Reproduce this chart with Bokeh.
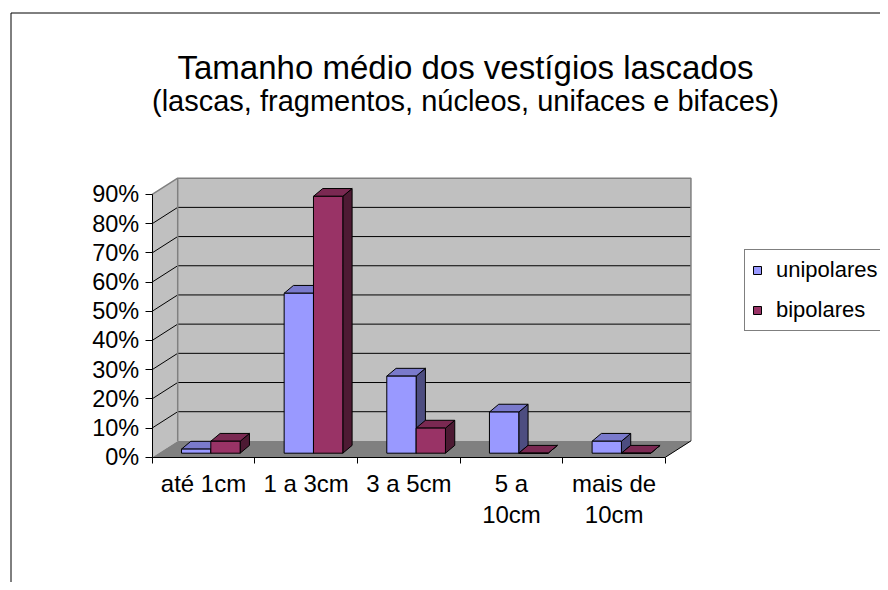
from bokeh.plotting import figure
from bokeh.models import (Range1d, LinearAxis, FixedTicker, NumeralTickFormatter,
                          Legend, LegendItem, Label)
from bokeh.embed import file_html
from bokeh.resources import INLINE

# ---------------- data ----------------
categories = ["até 1cm", "1 a 3cm", "3 a 5cm", "5 a\n10cm", "mais de\n10cm"]
series_names = ["unipolares", "bipolares"]
unipolares = [0.014, 0.548, 0.264, 0.141, 0.041]
bipolares = [0.041, 0.880, 0.086, 0.0, 0.0]
y_ticks = [0.0, 0.1, 0.2, 0.3, 0.4, 0.5, 0.6, 0.7, 0.8, 0.9]
title_text = "Tamanho médio dos vestígios lascados"
subtitle_text = "(lascas, fragmentos, núcleos, unifaces e bifaces)"

# ---------------- colours ----------------
front_colors = ["#9999FF", "#993366"]
top_colors = ["#7A7ACC", "#7A2952"]
side_colors = ["#4D4D80", "#4D1A33"]
WALL = "#C0C0C0"
FLOOR = "#808080"
EDGE = "#808080"
FONT = "Liberation Sans"

# ---------------- layout (pixels -> data scale) ----------------
W, H = 880, 582
PX_PER_CAT = 102.65
PX_PER_UNIT = 291.9
ORIGIN_X = 151.7      # canvas x of the front axis
ORIGIN_Y = 456.7      # canvas y (from top) of 0 on the front axis
X_START = -ORIGIN_X / PX_PER_CAT
X_END = X_START + W / PX_PER_CAT
Y_END = ORIGIN_Y / PX_PER_UNIT
Y_START = Y_END - H / PX_PER_UNIT


def cx(px):
    return X_START + px / PX_PER_CAT


def cy(py):
    return Y_END - py / PX_PER_UNIT


DXW = 25.5 / PX_PER_CAT   # wall depth
DYW = 16.3 / PX_PER_UNIT
BAR_W = 1 / 3.5           # gap width 150%
BX0 = 7.3 / PX_PER_CAT    # bars set back in depth
BY0 = 4.0 / PX_PER_UNIT
BDX = 9.3 / PX_PER_CAT    # bar depth
BDY = 7.8 / PX_PER_UNIT

n = len(categories)
ymax = y_ticks[-1]

p = figure(width=W, height=H, output_backend="svg", toolbar_location=None,
           x_range=Range1d(X_START, X_END), y_range=Range1d(Y_START, Y_END),
           x_axis_type=None, y_axis_type=None, min_border=0,
           background_fill_color="white", border_fill_color="white")
p.outline_line_color = None
p.xgrid.visible = False
p.ygrid.visible = False

# chart border (left and top visible)
p.line(x=[cx(10.5), cx(10.5), cx(900)], y=[cy(700), cy(12.5), cy(12.5)],
       line_color="#000000", line_width=1)

# walls and floor
p.patch(x=[0, DXW, DXW, 0], y=[0, DYW, ymax + DYW, ymax], fill_color=WALL, line_color=None)
p.patch(x=[DXW, n + DXW, n + DXW, DXW], y=[DYW, DYW, ymax + DYW, ymax + DYW],
        fill_color=WALL, line_color=None)
p.patch(x=[0, n, n + DXW, DXW], y=[0, 0, DYW, DYW], fill_color=FLOOR, line_color=None)

inner = y_ticks[1:-1]
p.segment(x0=[DXW] * len(inner), y0=[t + DYW for t in inner],
          x1=[n + DXW] * len(inner), y1=[t + DYW for t in inner],
          line_color="black", line_width=1)
p.segment(x0=[0] * len(inner), y0=inner, x1=[DXW] * len(inner),
          y1=[t + DYW for t in inner], line_color="black", line_width=1)
# wall edges
p.line(x=[0, DXW, n + DXW, n + DXW], y=[ymax, ymax + DYW, ymax + DYW, DYW],
       line_color=EDGE, line_width=1.5)
p.line(x=[DXW, DXW], y=[DYW, ymax + DYW], line_color=EDGE, line_width=1.5)
p.line(x=[n, n + DXW], y=[0, DYW], line_color="black", line_width=1)

# bars
front_renderers = []
for s, vals in enumerate([unipolares, bipolares]):
    lefts = [i + 0.5 - BAR_W + BX0 + s * BAR_W for i in range(n)]
    rights = [l + BAR_W for l in lefts]
    tops = [BY0 + v for v in vals]
    side_xs = [[r, r + BDX, r + BDX, r] for r in rights]
    side_ys = [[BY0, BY0 + BDY, t + BDY, t] for t in tops]
    top_xs = [[l, r, r + BDX, l + BDX] for l, r in zip(lefts, rights)]
    top_ys = [[t, t, t + BDY, t + BDY] for t in tops]
    p.patches(xs=side_xs, ys=side_ys, fill_color=side_colors[s], line_color="black", line_width=1)
    p.patches(xs=top_xs, ys=top_ys, fill_color=top_colors[s], line_color="black", line_width=1)
    fr = p.quad(left=lefts, right=rights, bottom=[BY0] * n, top=tops,
                fill_color=front_colors[s], line_color="black", line_width=1)
    front_renderers.append(fr)

# y axis on the front edge
yaxis = LinearAxis(fixed_location=0, bounds=(0, ymax),
                   ticker=FixedTicker(ticks=y_ticks, minor_ticks=[]),
                   formatter=NumeralTickFormatter(format="0%"))
yaxis.axis_line_color = "black"
yaxis.major_tick_line_color = "black"
yaxis.major_tick_out = 7
yaxis.major_tick_in = 0
yaxis.minor_tick_out = 0
yaxis.major_label_standoff = 6
yaxis.major_label_text_font = FONT
yaxis.major_label_text_font_size = "23.5px"
yaxis.major_label_text_color = "black"
p.add_layout(yaxis, "left")

# x axis on the front floor edge
centers = [i + 0.5 for i in range(n)]
xaxis = LinearAxis(fixed_location=0, bounds=(0, n),
                   ticker=FixedTicker(ticks=centers, minor_ticks=list(range(n + 1))))
xaxis.major_label_overrides = {c: lab for c, lab in zip(centers, categories)}
xaxis.axis_line_color = "black"
xaxis.major_tick_out = 0
xaxis.major_tick_in = 0
xaxis.minor_tick_out = 6
xaxis.minor_tick_in = 0
xaxis.minor_tick_line_color = "black"
xaxis.major_label_standoff = 7
xaxis.major_label_text_font = FONT
xaxis.major_label_text_font_size = "24px"
xaxis.major_label_text_color = "black"
xaxis.major_label_text_line_height = 1.14
p.add_layout(xaxis, "below")

# titles
p.add_layout(Label(x=cx(465), y=cy(66.7), text=title_text, text_align="center",
                   text_baseline="alphabetic", text_font=FONT, text_font_size="33px",
                   text_color="black"))
p.add_layout(Label(x=cx(465), y=cy(100.7), text=subtitle_text, text_align="center",
                   text_baseline="alphabetic", text_font=FONT, text_font_size="29px",
                   text_color="black"))

# legend
legend = Legend(items=[LegendItem(label=series_names[s], renderers=[front_renderers[s]])
                       for s in range(2)],
                location=(744, H - 331), orientation="vertical")
legend.glyph_width = 10
legend.glyph_height = 10
legend.label_height = 26
legend.label_standoff = 14
legend.spacing = 14
legend.padding = 7
legend.margin = 0
legend.border_line_color = "black"
legend.border_line_width = 1
legend.background_fill_color = "white"
legend.background_fill_alpha = 1
legend.label_text_font = FONT
legend.label_text_font_size = "22px"
legend.label_text_color = "black"
p.add_layout(legend, "center")

open("out.html", "w").write(file_html(p, INLINE))
